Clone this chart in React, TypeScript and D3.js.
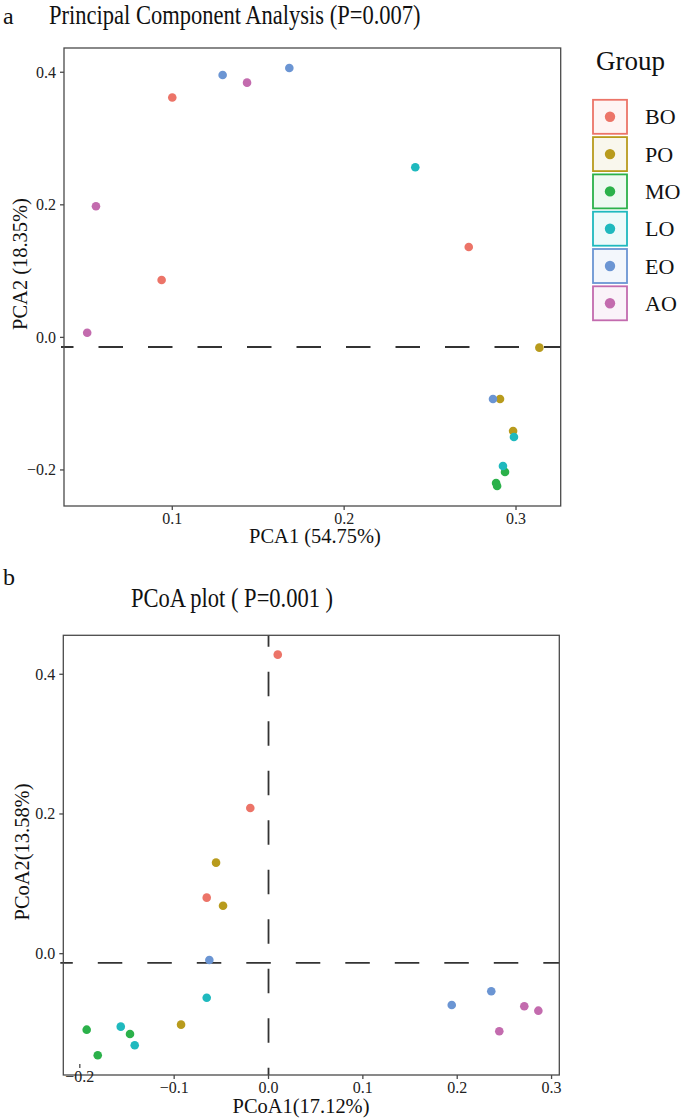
import * as d3 from 'd3'

const groups = ['BO', 'PO', 'MO', 'LO', 'EO', 'AO']
const groupColors = ['#EC7468', '#B89B1D', '#2BB14A', '#1FB9BE', '#6B95D3', '#C36BAE']

// panel a: PCA scores, three samples per group
const pcaGroup = ['BO', 'BO', 'BO', 'PO', 'PO', 'PO', 'MO', 'MO', 'MO', 'LO', 'LO', 'LO', 'EO', 'EO', 'EO', 'AO', 'AO', 'AO']
const pcaPC1 = [0.1, 0.0938, 0.2725, 0.3136, 0.2907, 0.2983, 0.2936, 0.2884, 0.289, 0.2414, 0.2988, 0.2924, 0.1293, 0.1681, 0.2866, 0.1435, 0.0556, 0.0505]
const pcaPC2 = [0.362, 0.0866, 0.1364, -0.0155, -0.0929, -0.1412, -0.2031, -0.2197, -0.2242, 0.2566, -0.1502, -0.194, 0.3959, 0.4065, -0.0929, 0.3843, 0.1978, 0.0071]
const pcaXTicks = [0.1, 0.2, 0.3]
const pcaYTicks = [-0.2, 0, 0.2, 0.4]
const pcaHLine = -0.0145

// panel b: PCoA scores
const pcoaGroup = ['BO', 'BO', 'BO', 'PO', 'PO', 'PO', 'MO', 'MO', 'MO', 'LO', 'LO', 'LO', 'EO', 'EO', 'EO', 'AO', 'AO', 'AO']
const pcoa1 = [0.0098, -0.0193, -0.0655, -0.0556, -0.0482, -0.0927, -0.1927, -0.181, -0.1468, -0.1566, -0.1418, -0.0655, -0.0627, 0.1942, 0.2361, 0.2711, 0.286, 0.2446]
const pcoa2 = [0.4281, 0.2086, 0.0802, 0.1303, 0.0687, -0.1016, -0.1088, -0.1455, -0.115, -0.1045, -0.1311, -0.063, -0.009, -0.0734, -0.0538, -0.0753, -0.0816, -0.1111]
const pcoaXTicks = [-0.2, -0.1, 0, 0.1, 0.2, 0.3]
const pcoaYTicks = [0, 0.2, 0.4]
const pcoaHLine = -0.0133
const pcoaVLine = 0

const FONT = '"Liberation Serif", "Times New Roman", serif'
const INK = '#4a4a4a'
const DASH = '#333333'
const fmt = d3.format('.1f')
const color = d3.scaleOrdinal<string, string>().domain(groups).range(groupColors)

// the source figure's text is slightly condensed, so squeeze horizontally
function Label({ x, y, size, sx = 1, anchor = 'start', rotate = 0, children }: {
  x: number; y: number; size: number; sx?: number; anchor?: string; rotate?: number; children: string
}) {
  return (
    <text
      transform={`translate(${x},${y}) rotate(${rotate}) scale(${sx},1)`}
      textAnchor={anchor}
      fontSize={size}
      fill="#111"
    >
      {children}
    </text>
  )
}

type PanelProps = {
  x0: number
  x1: number
  y0: number
  y1: number
  xDomain: [number, number]
  yDomain: [number, number]
  xTicks: number[]
  yTicks: number[]
  group: string[]
  xs: number[]
  ys: number[]
  hLine: number
  vLine?: number
  liftedTick?: number
}

function Panel(p: PanelProps) {
  const x = d3.scaleLinear().domain(p.xDomain).range([p.x0, p.x1])
  const y = d3.scaleLinear().domain(p.yDomain).range([p.y1, p.y0])
  const hy = y(p.hLine)
  return (
    <g>
      <line x1={p.x0 - 3} x2={p.x1} y1={hy} y2={hy} stroke={DASH} strokeWidth={1.8} strokeDasharray="24.5 25" strokeDashoffset={12} />
      {p.vLine !== undefined && (
        <line x1={x(p.vLine)} x2={x(p.vLine)} y1={p.y0} y2={p.y1} stroke={DASH} strokeWidth={1.8} strokeDasharray="24.5 25" strokeDashoffset={13} />
      )}
      <rect x={p.x0} y={p.y0} width={p.x1 - p.x0} height={p.y1 - p.y0} fill="none" stroke={INK} strokeWidth={1.3} />
      {p.xTicks.map((t) => {
        const lift = p.liftedTick === t ? -11 : 0
        return (
          <g key={t} transform={`translate(${x(t)},${p.y1 + lift})`}>
            <line y2={4} stroke={INK} strokeWidth={1.3} />
            <text y={18} textAnchor="middle" fontSize={16} fill="#222">
              {fmt(t)}
            </text>
          </g>
        )
      })}
      {p.yTicks.map((t) => (
        <g key={t} transform={`translate(${p.x0},${y(t)})`}>
          <line x2={-4} stroke={INK} strokeWidth={1.3} />
          <text x={-8} dy="0.34em" textAnchor="end" fontSize={16} fill="#222">
            {fmt(t)}
          </text>
        </g>
      ))}
      {p.xs.map((v, i) => (
        <circle key={i} cx={x(v)} cy={y(p.ys[i])} r={4.3} fill={color(p.group[i])} />
      ))}
    </g>
  )
}

export default function App() {
  const keyStep = 37.3
  return (
    <svg
      width={685}
      height={1120}
      style={{ position: 'absolute', left: 0, top: 0 }}
      fontFamily={FONT}
    >
      <rect width={685} height={1120} fill="#fff" />

      <Label x={3} y={24} size={24}>a</Label>
      <Label x={49} y={24} size={26.5} sx={0.85}>Principal Component Analysis (P=0.007)</Label>
      <Panel
        x0={64}
        x1={560.7}
        y0={48}
        y1={506}
        xDomain={[0.037, 0.326]}
        yDomain={[-0.2544, 0.4366]}
        xTicks={pcaXTicks}
        yTicks={pcaYTicks}
        group={pcaGroup}
        xs={pcaPC1}
        ys={pcaPC2}
        hLine={pcaHLine}
      />
      <Label x={315} y={543} size={22} sx={0.93} anchor="middle">PCA1 (54.75%)</Label>
      <Label x={27} y={264} size={22} sx={0.93} anchor="middle" rotate={-90}>PCA2 (18.35%)</Label>

      <g>
        <Label x={596} y={70} size={27}>Group</Label>
        {groups.map((g, i) => {
          const cy = 116.8 + i * keyStep
          return (
            <g key={g}>
              <rect x={593} y={cy - 17} width={34} height={34} fill={color(g)} fillOpacity={0.08} stroke={color(g)} strokeWidth={1.8} />
              <circle cx={610} cy={cy} r={5.2} fill={color(g)} />
              <Label x={645} y={cy + 7.5} size={22}>{g}</Label>
            </g>
          )
        })}
      </g>

      <Label x={3} y={585} size={24}>b</Label>
      <Label x={232} y={607} size={26.5} sx={0.85} anchor="middle">PCoA plot ( P=0.001 )</Label>
      <Panel
        x0={63.3}
        x1={559.3}
        y0={635.3}
        y1={1075}
        xDomain={[-0.2175, 0.3082]}
        yDomain={[-0.1737, 0.4558]}
        xTicks={pcoaXTicks}
        yTicks={pcoaYTicks}
        group={pcoaGroup}
        xs={pcoa1}
        ys={pcoa2}
        hLine={pcoaHLine}
        vLine={pcoaVLine}
        liftedTick={-0.2}
      />
      <Label x={301} y={1113} size={22} sx={0.93} anchor="middle">PCoA1(17.12%)</Label>
      <Label x={29} y={852} size={22} sx={0.93} anchor="middle" rotate={-90}>PCoA2(13.58%)</Label>
    </svg>
  )
}
